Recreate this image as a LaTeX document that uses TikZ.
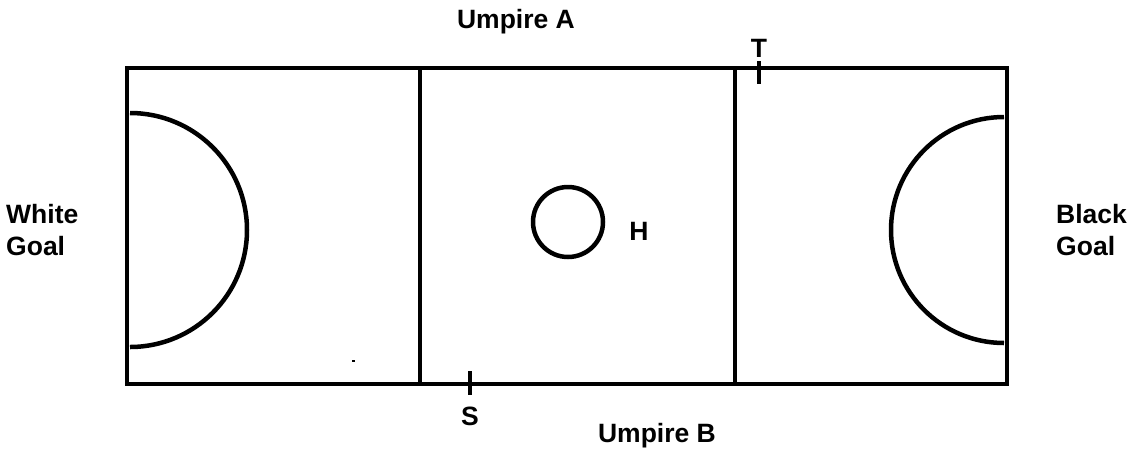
\documentclass[tikz,border=0pt]{standalone}
\usepackage{fontspec}
\setmainfont{Liberation Sans}
\begin{document}
\begin{tikzpicture}[x=1pt,y=1pt,
  court/.style={line width=4.5pt},
  tick/.style={line width=4.5pt},
  lbl/.style={font=\bfseries\fontsize{26.5}{32}\selectfont, inner sep=0pt}]
\useasboundingbox (0,0) rectangle (1136,-448);
% court outline
\draw[court] (127,-68) rectangle (1007,-384);
\draw[court] (420,-68) -- (420,-384);
\draw[court] (735,-68) -- (735,-384);
% goal circles
\draw[court] (130,-113) arc[start angle=90, end angle=-90, radius=117];
\draw[court] (1004,-117) arc[start angle=90, end angle=270, radius=113];
% centre circle
\draw[court] (568,-222) circle[radius=35];
% ticks
\draw[tick] (470,-371) -- (470,-395);
\draw[tick] (759,-61) -- (759,-84);
% small dot
\fill (352,-360) rectangle (355,-362);
% labels
\node[lbl, anchor=base] (ua) at (516,-28) {Umpire A};
\node[lbl, anchor=base] (ub) at (657,-442) {Umpire B};
\node[lbl, anchor=north west, align=left] (wg) at (6,-204) {White\\Goal};
\node[lbl, anchor=north west, align=left] (bg) at (1056,-204) {Black\\Goal};
\node[lbl, anchor=base] (s) at (470,-425) {S};
\node[lbl, anchor=base] (t) at (759,-57) {T};
\node[lbl, anchor=base] (h) at (639,-240) {H};
\end{tikzpicture}
\end{document}
